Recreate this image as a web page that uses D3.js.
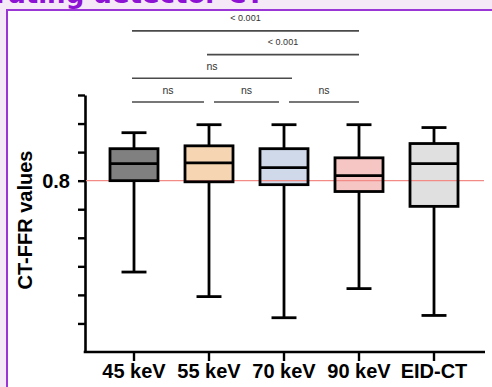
<!DOCTYPE html>
<html>
<head>
<meta charset="utf-8">
<script src="https://cdn.jsdelivr.net/npm/d3@7"></script>
<style>
  html, body { margin: 0; padding: 0; background: #f5e9f7; }
  svg { display: block; }
</style>
</head>
<body>
<script>
// CT-FFR distribution per reconstruction energy level
const categories   = ["45 keV", "55 keV", "70 keV", "90 keV", "EID-CT"];
const whiskerLow   = [0.640, 0.597, 0.560, 0.611, 0.564];
const quartile1    = [0.800, 0.798, 0.793, 0.781, 0.755];
const medians      = [0.830, 0.831, 0.823, 0.809, 0.830];
const quartile3    = [0.856, 0.861, 0.856, 0.840, 0.865];
const whiskerHigh  = [0.884, 0.898, 0.898, 0.898, 0.893];
const boxColors    = ["#808080", "#f6d6b2", "#cfd9ea", "#f5c6c4", "#e0e0e0"];

const yTicks       = [0.55, 0.60, 0.65, 0.70, 0.75, 0.80, 0.85, 0.90, 0.95];
const yLabelled    = [0.80];
const cutoff       = 0.80;

// pairwise comparisons: [from, to, label, row (0 = lowest)]
const compFrom  = ["45 keV", "55 keV", "70 keV", "45 keV", "55 keV", "45 keV"];
const compTo    = ["55 keV", "70 keV", "90 keV", "70 keV", "90 keV", "90 keV"];
const compLabel = ["ns", "ns", "ns", "ns", "< 0.001", "< 0.001"];
const compRow   = [0, 0, 0, 1, 2, 3];

const W = 492, H = 387;
const svg = d3.select("body").append("svg").attr("width", W).attr("height", H);

// header strip with the title running off the top, then the white panel
svg.append("rect").attr("x", 0).attr("y", 0).attr("width", W).attr("height", H).attr("fill", "#f5e9f7");
svg.append("text")
  .attr("x", 264).attr("y", 3)
  .attr("text-anchor", "end")
  .attr("font-family", "'DejaVu Sans', sans-serif")
  .attr("font-weight", 900)
  .attr("font-size", 26)
  .attr("fill", "#8d12d4")
  .text("Energy-integrating detector CT");
svg.append("rect")
  .attr("x", 7).attr("y", 10).attr("width", W).attr("height", H)
  .attr("fill", "#ffffff").attr("stroke", "#9a36d6").attr("stroke-width", 2);

const x = d3.scaleBand().domain(categories).range([96.5, 471.5]).paddingInner(0.36).paddingOuter(0.18);
const y = d3.scaleLinear().domain([0.5, 0.95]).range([352, 95]);
const cx = c => x(c) + x.bandwidth() / 2;

const font = "'Liberation Sans', Arial, sans-serif";

// y axis
const yAxis = svg.append("g").attr("transform", "translate(85,0)")
  .call(d3.axisLeft(y).tickValues(yTicks).tickSize(7).tickSizeOuter(0).tickPadding(8)
    .tickFormat(d => yLabelled.some(v => Math.abs(v - d) < 1e-9) ? d3.format(".1f")(d) : ""));
yAxis.selectAll("path.domain").attr("stroke", "#000").attr("stroke-width", 2.6);
yAxis.selectAll(".tick line").attr("stroke", "#000").attr("stroke-width", 2.4);
yAxis.selectAll(".tick text").attr("fill", "#000").attr("font-family", font)
  .attr("font-weight", "bold").attr("font-size", 20);

// x axis
const xAxis = svg.append("g").attr("transform", "translate(0,352)")
  .call(d3.axisBottom(x).tickSize(9).tickSizeOuter(0).tickPadding(3));
xAxis.select("path.domain").remove();
xAxis.append("line").attr("x1", 85 - 1.3).attr("x2", 485).attr("y1", 0).attr("y2", 0)
  .attr("stroke", "#000").attr("stroke-width", 2.6);
xAxis.selectAll(".tick line").attr("stroke", "#000").attr("stroke-width", 2.4);
xAxis.selectAll(".tick text").attr("fill", "#000").attr("font-family", font)
  .attr("font-weight", "bold").attr("font-size", 20);

// y axis title
svg.append("text")
  .attr("transform", "translate(32,220) rotate(-90)")
  .attr("text-anchor", "middle")
  .attr("font-family", font).attr("font-weight", "bold").attr("font-size", 20)
  .attr("fill", "#000")
  .text("CT-FFR values");

// boxes
const rows = categories.map((c, i) => ({
  c, lo: whiskerLow[i], q1: quartile1[i], med: medians[i], q3: quartile3[i], hi: whiskerHigh[i], fill: boxColors[i]
}));
const bw = x.bandwidth();
const capW = bw * 0.52;
const stroke = 2.8;

const box = svg.append("g").selectAll("g").data(rows).join("g");
box.append("rect")
  .attr("x", d => x(d.c)).attr("width", bw)
  .attr("y", d => y(d.q3)).attr("height", d => y(d.q1) - y(d.q3))
  .attr("fill", d => d.fill);

// reference cut-off line
svg.append("line")
  .attr("x1", 86).attr("x2", 484)
  .attr("y1", y(cutoff)).attr("y2", y(cutoff))
  .attr("stroke", "#f28b86").attr("stroke-width", 1.2);

const outl = svg.append("g").selectAll("g").data(rows).join("g")
  .attr("stroke", "#000").attr("stroke-width", stroke).attr("fill", "none");
outl.append("line").attr("x1", d => cx(d.c)).attr("x2", d => cx(d.c))
  .attr("y1", d => y(d.hi)).attr("y2", d => y(d.q3));
outl.append("line").attr("x1", d => cx(d.c)).attr("x2", d => cx(d.c))
  .attr("y1", d => y(d.q1)).attr("y2", d => y(d.lo));
outl.append("line").attr("x1", d => cx(d.c) - capW / 2).attr("x2", d => cx(d.c) + capW / 2)
  .attr("y1", d => y(d.hi)).attr("y2", d => y(d.hi));
outl.append("line").attr("x1", d => cx(d.c) - capW / 2).attr("x2", d => cx(d.c) + capW / 2)
  .attr("y1", d => y(d.lo)).attr("y2", d => y(d.lo));
outl.append("rect")
  .attr("x", d => x(d.c)).attr("width", bw)
  .attr("y", d => y(d.q3)).attr("height", d => y(d.q1) - y(d.q3));
outl.append("line").attr("x1", d => x(d.c)).attr("x2", d => x(d.c) + bw)
  .attr("y1", d => y(d.med)).attr("y2", d => y(d.med));

// significance brackets
const comps = compFrom.map((f, i) => ({ f, t: compTo[i], label: compLabel[i], row: compRow[i] }));
const rowY = r => 102 - r * 23.7;
const gap = 5;
const br = svg.append("g");
comps.forEach(d => {
  const shareLeft = comps.some(o => o !== d && o.row === d.row && o.t === d.f);
  const shareRight = comps.some(o => o !== d && o.row === d.row && o.f === d.t);
  const x1 = cx(d.f) + (shareLeft ? gap : -2);
  const x2 = cx(d.t) - (shareRight ? gap : 0) + (d.row === 1 ? 8 : 0);
  const yy = rowY(d.row);
  br.append("line").attr("x1", x1).attr("x2", x2).attr("y1", yy).attr("y2", yy)
    .attr("stroke", "#4a4a4a").attr("stroke-width", 1.6);
  br.append("text")
    .attr("x", (x1 + x2) / 2).attr("y", yy - (d.label === "ns" ? 8.5 : 9.5))
    .attr("text-anchor", "middle")
    .attr("font-family", font)
    .attr("font-size", d.label === "ns" ? 10.5 : 9)
    .attr("fill", "#333")
    .text(d.label);
});
</script>
</body>
</html>
